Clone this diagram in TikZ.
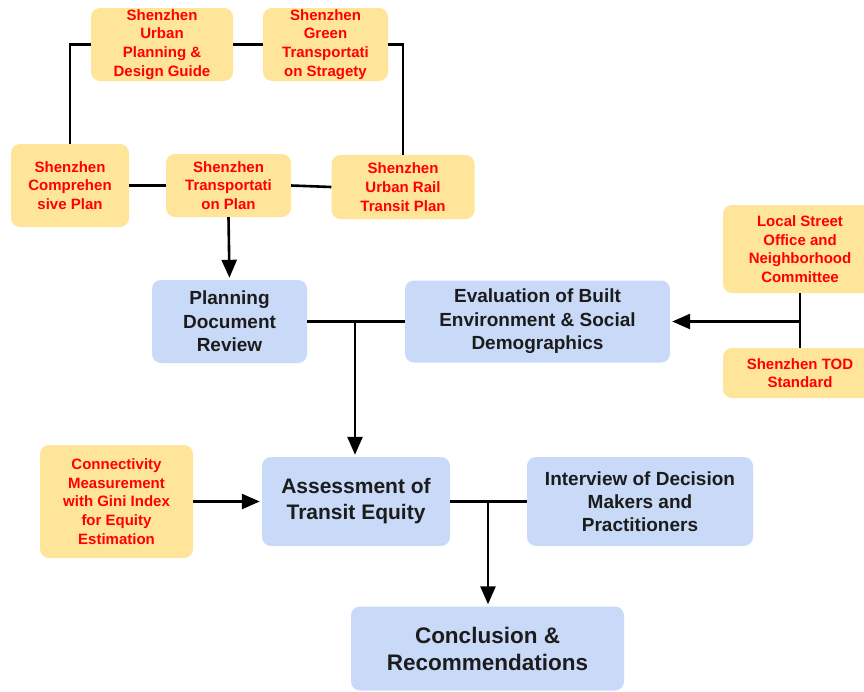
\documentclass[tikz,border=0pt]{standalone}
\usepackage{fontspec}
\setmainfont{Liberation Sans}
\usetikzlibrary{arrows.meta,calc}
\definecolor{boxorange}{HTML}{FFE599}
\definecolor{boxblue}{HTML}{C9DAF8}
\definecolor{txtred}{HTML}{FF0000}
\definecolor{txtdark}{HTML}{1C1C1C}
\tikzset{
  obox/.style={fill=boxorange, rounded corners=9pt, inner sep=0pt, align=center,
    text=txtred, font=\fontsize{15}{18.7}\selectfont\bfseries},
  bbox/.style={fill=boxblue, rounded corners=9pt, inner sep=0pt, align=center,
    text=txtdark, font=\fontsize{19}{23.5}\selectfont\bfseries},
  link/.style={draw=black, line width=2.6pt},
  arr/.style={link, -{Triangle[length=18pt,width=15pt]}, shorten >=2pt}
}
\begin{document}
\begin{tikzpicture}[x=1pt,y=-1pt]
\useasboundingbox (0,0) rectangle (864,691);
% orange source boxes
\node[obox, minimum width=142pt, minimum height=73pt] (upd) at (162,44.5) {Shenzhen\\Urban\\Planning \&\\Design Guide};
\node[obox, minimum width=125pt, minimum height=73pt] (gts) at (325.5,44.5) {Shenzhen\\Green\\Transportati\\on Stragety};
\node[obox, minimum width=118pt, minimum height=83pt] (comp) at (70,185.5) {Shenzhen\\Comprehen\\sive Plan};
\node[obox, minimum width=125pt, minimum height=63pt] (trans) at (228.5,185.5) {Shenzhen\\Transportati\\on Plan};
\node[obox, minimum width=143pt, minimum height=64pt] (rail) at (403,187) {Shenzhen\\Urban Rail\\Transit Plan};
\node[obox, minimum width=154pt, minimum height=88pt] (local) at (800,249) {Local Street\\Office and\\Neighborhood\\Committee};
\node[obox, minimum width=154pt, minimum height=50pt] (tod) at (800,373) {Shenzhen TOD\\Standard};
\node[obox, minimum width=153pt, minimum height=113pt] (conn) at (116.5,501.5) {Connectivity\\Measurement\\with Gini Index\\for Equity\\Estimation};
% blue process boxes
\node[bbox, minimum width=155pt, minimum height=83pt] (pdr) at (229.5,321.5) {Planning\\Document\\Review};
\node[bbox, minimum width=265pt, minimum height=82pt] (eval) at (537.5,321.5) {Evaluation of Built\\Environment \& Social\\Demographics};
\node[bbox, minimum width=188pt, minimum height=89pt, font=\fontsize{21}{26}\selectfont\bfseries] (ass) at (356,501.5) {Assessment of\\Transit Equity};
\node[bbox, minimum width=226pt, minimum height=89pt, font=\fontsize{19}{23}\selectfont\bfseries] (intv) at (640,501.5) {Interview of Decision\\Makers and\\Practitioners};
\node[bbox, minimum width=273pt, minimum height=84pt, font=\fontsize{22.5}{27}\selectfont\bfseries] (concl) at (487.5,648.5) {Conclusion \&\\Recommendations};
% junction points
\coordinate (j1) at (355,321.5);
\coordinate (j2) at (800,321.5);
\coordinate (j3) at (488,501.5);
% connectors
\draw[link] (upd.west) -| (comp.north);
\draw[link] (upd.east) -- (gts.west);
\draw[link] (gts.east) -| (rail.north);
\draw[link] (comp.east) -- (trans.west);
\draw[link] (trans.east) -- (rail.west);
\draw[arr] (trans.south) -- (pdr.north);
\draw[link] (pdr.east) -- (eval.west);
\draw[arr] (j1) -- (j1 |- ass.north);
\draw[link] (local.south) -- (tod.north);
\draw[arr] (j2) -- (eval.east);
\draw[arr] (conn.east) -- (ass.west);
\draw[link] (ass.east) -- (intv.west);
\draw[arr] (j3) -- (j3 |- concl.north);
\end{tikzpicture}
\end{document}
